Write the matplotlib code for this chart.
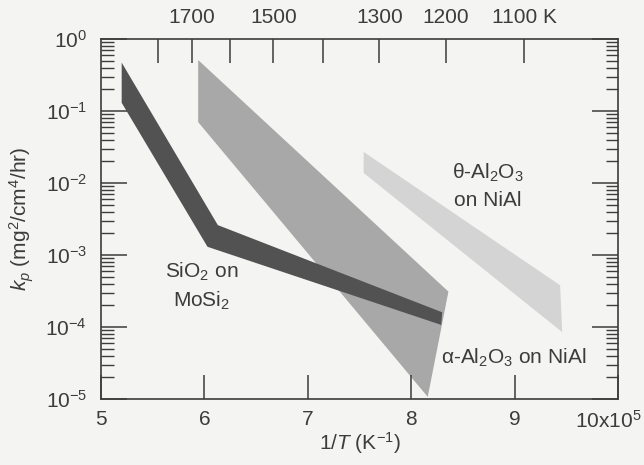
import numpy as np
import matplotlib
matplotlib.use("Agg")
import matplotlib.pyplot as plt
from matplotlib.ticker import LogLocator, NullFormatter, FixedLocator, FixedFormatter
from matplotlib.transforms import ScaledTranslation

plt.rcParams['font.family'] = ['Liberation Sans', 'DejaVu Sans']
plt.rcParams['mathtext.fontset'] = 'custom'
plt.rcParams['mathtext.rm'] = 'Liberation Sans'
plt.rcParams['mathtext.it'] = 'Liberation Sans:italic'
plt.rcParams['mathtext.default'] = 'regular'

# band outlines (x = 1/T in 1e-4 K^-1, y = kp)
sio2_x = [5.20, 6.13, 8.30, 8.29, 6.03, 5.20]
sio2_y = [0.47, 2.6e-3, 1.6e-4, 1.07e-4, 1.3e-3, 0.13]

alpha_x = [5.94, 8.36, 8.16, 5.94]
alpha_y = [0.51, 3.1e-4, 1.07e-5, 0.07]

theta_x = [7.54, 9.44, 9.46, 7.54]
theta_y = [0.027, 3.8e-4, 8.5e-5, 0.0138]

x_ticks = [5, 6, 7, 8, 9, 10]
x_tick_labels = ['5', '6', '7', '8', '9', r'10x10$^5$']

top_temps = [1800, 1700, 1600, 1500, 1400, 1300, 1200, 1100]
top_labels = ['', '1700', '', '1500', '', '1300', '1200', '1100 K']

bg = '#f4f4f2'
ink = '#3c3c3c'
fs = 15

fig = plt.figure(figsize=(6.44, 4.65), dpi=100, facecolor=bg)
ax = fig.add_axes([101 / 644, 1 - 399 / 465, 517 / 644, 360 / 465], facecolor=bg)

ax.fill(alpha_x, alpha_y, color='#a8a8a8', lw=0)
ax.fill(sio2_x, sio2_y, color='#525252', lw=0)
ax.fill(theta_x, theta_y, color='#d4d4d4', lw=0)

ax.set_yscale('log')
ax.set_xlim(5, 10)
ax.set_ylim(1e-5, 1)

ax.set_xticks(x_ticks)
ax.set_xticklabels(x_tick_labels)
ax.yaxis.set_minor_locator(LogLocator(base=10, subs=np.arange(2, 10)))
ax.yaxis.set_minor_formatter(NullFormatter())

ax.tick_params(axis='x', which='major', direction='in', length=17, width=1.1,
               colors=ink, labelcolor=ink, top=False, pad=8, labelsize=fs)
ax.tick_params(axis='y', which='major', direction='in', length=19, width=1.1,
               colors=ink, labelcolor=ink, left=True, right=True, pad=10, labelsize=fs)
ax.tick_params(axis='y', which='minor', direction='in', length=9, width=1.0,
               colors=ink, left=True, right=True)
for s in ax.spines.values():
    s.set_color(ink)
    s.set_linewidth(1.2)

# last x label sits a little left of its tick, as in the figure
last = ax.get_xticklabels()[-1]
last.set_transform(last.get_transform() + ScaledTranslation(-0.10, 0, fig.dpi_scale_trans))

# temperature scale on top
ax2 = ax.twiny()
ax2.set_xlim(ax.get_xlim())
ax2.xaxis.set_major_locator(FixedLocator([1e4 / t for t in top_temps]))
ax2.xaxis.set_major_formatter(FixedFormatter(top_labels))
ax2.tick_params(axis='x', direction='in', length=17, width=1.1, colors=ink,
                labelcolor=ink, pad=9, labelsize=fs)
for s in ax2.spines.values():
    s.set_visible(False)

ax.text(8.74, 0.0138, r'θ-Al$_2$O$_3$', ha='center', va='center', fontsize=fs, color=ink)
ax.text(8.74, 5.8e-3, 'on NiAl', ha='center', va='center', fontsize=fs, color=ink)
ax.text(5.97, 5.8e-4, r'SiO$_2$ on', ha='center', va='center', fontsize=fs, color=ink)
ax.text(5.97, 2.3e-4, r'MoSi$_2$', ha='center', va='center', fontsize=fs, color=ink)
ax.text(8.99, 3.7e-5, r'α-Al$_2$O$_3$ on NiAl', ha='center', va='center', fontsize=fs,
        color=ink, bbox=dict(facecolor=bg, edgecolor='none', pad=0.5))

fig.text(360 / 644, 1 - 443 / 465, r'1/$\mathit{T}$ (K$^{-1}$)', ha='center', va='center',
         fontsize=fs, color=ink)
fig.text(22 / 644, 1 - 219 / 465, r'$\mathit{k_p}$ (mg$^2$/cm$^4$/hr)', ha='center',
         va='center', rotation=90, fontsize=fs, color=ink)

fig.savefig('out.png', dpi=100, facecolor=bg)
